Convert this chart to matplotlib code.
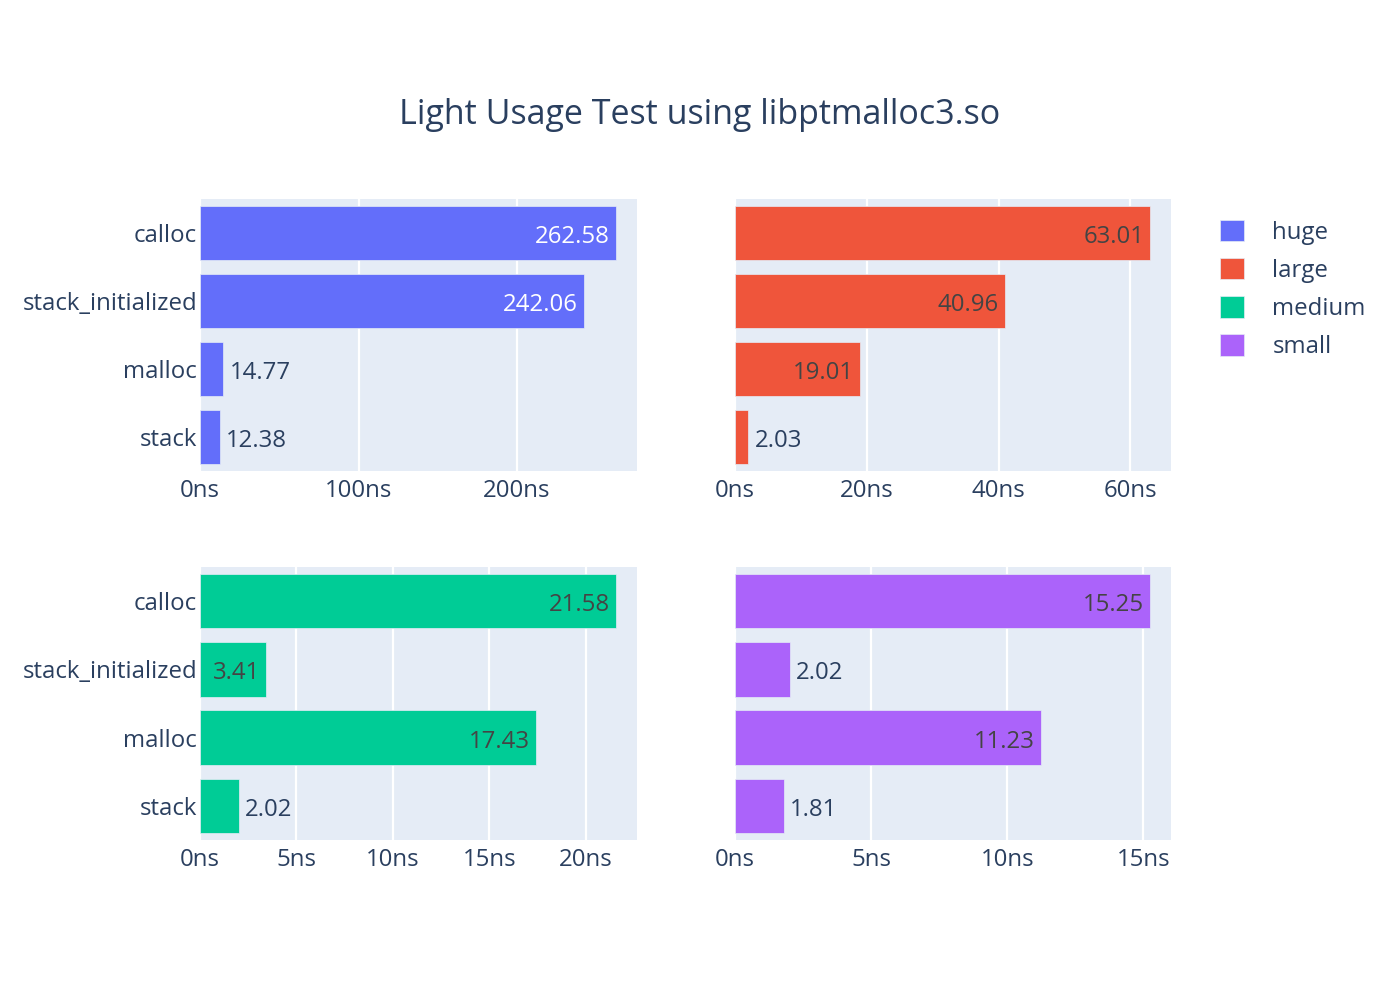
# light usage test - libptmalloc3.so
# plot.py

import numpy as np
import matplotlib
matplotlib.use("Agg")
import matplotlib.pyplot as plt

plt.rcParams["font.family"] = ["Open Sans", "DejaVu Sans"]

# data
categories = ["stack", "malloc", "stack_initialized", "calloc"]  # bottom to top
huge = [12.38, 14.77, 242.06, 262.58]
large = [2.03, 19.01, 40.96, 63.01]
medium = [2.02, 17.43, 3.41, 21.58]
small = [1.81, 11.23, 2.02, 15.25]

series_names = ["huge", "large", "medium", "small"]
series_values = [huge, large, medium, small]
xticks = [[0, 100, 200], [0, 20, 40, 60], [0, 5, 10, 15, 20], [0, 5, 10, 15]]

# style
colors = ["#636efa", "#EF553B", "#00cc96", "#ab63fa"]
inside_text = ["white", "#444444", "#444444", "#444444"]
TEXT = "#2a3f5f"
BG = "#E5ECF6"
FS = 17.3  # ~24px

fig = plt.figure(figsize=(14, 10), dpi=100)
W, H = 1400, 1000

# axes rects in pixels (left, top, right, bottom)
rects = [(200, 199, 637, 471), (735, 199, 1171, 471),
         (200, 567, 637, 840), (735, 567, 1171, 840)]

axes = []
containers = []
for i, (l, t, r, b) in enumerate(rects):
    ax = fig.add_axes([l / W, 1 - b / H, (r - l) / W, (b - t) / H])
    ax.set_facecolor(BG)
    vals = series_values[i]
    y = np.arange(len(categories))
    bars = ax.barh(y, vals, height=0.8, color=colors[i], edgecolor=BG,
                   linewidth=0.5, zorder=3, label=series_names[i])
    containers.append(bars)
    xmax = max(vals) * 1.05
    ax.set_xlim(0, xmax)
    ax.set_ylim(-0.5, len(categories) - 0.5)
    ax.set_xticks(xticks[i])
    ax.set_xticklabels([f"{v}ns" for v in xticks[i]])
    ax.set_yticks(y)
    if i % 2 == 0:
        ax.set_yticklabels(categories)
    else:
        ax.set_yticklabels([])
    ax.tick_params(axis="both", length=0, labelsize=FS, colors=TEXT)
    ax.tick_params(axis="x", pad=6)
    ax.tick_params(axis="y", pad=2)
    ax.grid(axis="x", color="white", linewidth=1.6, zorder=1)
    ax.grid(axis="y", visible=False)
    for s in ax.spines.values():
        s.set_visible(False)
    axes.append(ax)

# bar value labels: inside if they fit, else outside
fig.canvas.draw()
renderer = fig.canvas.get_renderer()
for i, ax in enumerate(axes):
    px_per_unit = (rects[i][2] - rects[i][0]) / ax.get_xlim()[1]
    for j, v in enumerate(series_values[i]):
        label = f"{v:.2f}"
        t = ax.text(0, j, label, fontsize=FS)
        tw = t.get_window_extent(renderer).width
        t.remove()
        bar_px = v * px_per_unit
        if tw + 12 <= bar_px:
            ax.annotate(label, xy=(v, j), xytext=(-6, -10), textcoords="offset pixels",
                        ha="right", va="baseline", fontsize=FS,
                        color=inside_text[i], zorder=5)
        else:
            ax.annotate(label, xy=(v, j), xytext=(6, -10), textcoords="offset pixels",
                        ha="left", va="baseline", fontsize=FS, color=TEXT, zorder=5)

fig.suptitle("Light Usage Test using libptmalloc3.so", x=0.5, y=0.885,
             va="center", fontsize=24.5, color=TEXT)

leg = fig.legend(containers, series_names, loc="upper left",
                 bbox_to_anchor=(1210 / W, 1 - 210 / H), frameon=False,
                 fontsize=FS, handlelength=1.0, handleheight=1.0,
                 handletextpad=1.2, labelspacing=0.55, borderaxespad=0)
for txt in leg.get_texts():
    txt.set_color(TEXT)

fig.savefig("out.png", dpi=100, facecolor="white")
